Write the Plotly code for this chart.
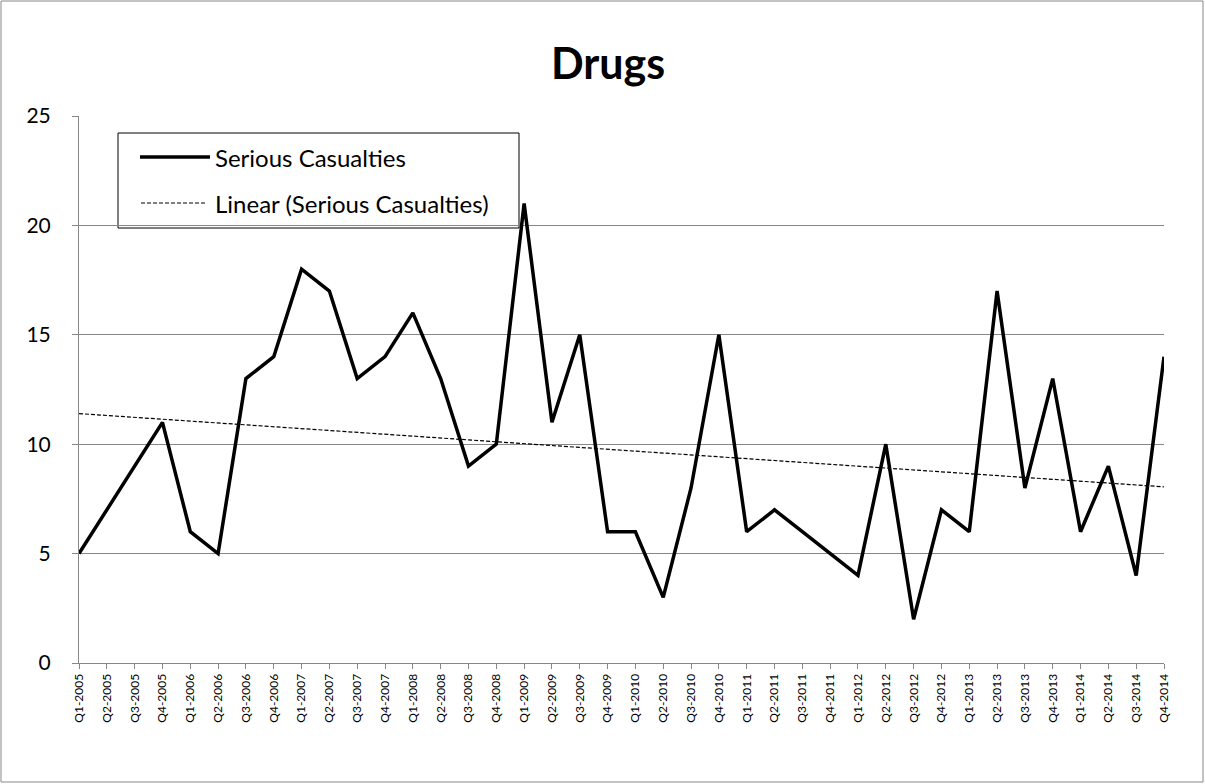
import numpy as np
import plotly.graph_objects as go

# Quarterly counts of serious casualties in drug-related collisions
quarters = [f"Q{q}-{y}" for y in range(2005, 2015) for q in range(1, 5)]
serious_casualties = [
    5, 7, 9, 11,
    6, 5, 13, 14,
    18, 17, 13, 14,
    16, 13, 9, 10,
    21, 11, 15, 6,
    6, 3, 8, 15,
    6, 7, 6, 5,
    4, 10, 2, 7,
    6, 17, 8, 13,
    6, 9, 4, 14,
]
y_ticks = [0, 5, 10, 15, 20, 25]

# Least-squares linear trend over the series
idx = np.arange(len(serious_casualties))
slope, intercept = np.polyfit(idx, serious_casualties, 1)
trend = slope * idx + intercept

W, H = 1205, 784
L, R, T, B = 79, 1164, 116, 663
FONT = "Lato, 'Open Sans', sans-serif"
GRAY = "#878787"


def px(x):
    return (x - L) / (R - L)


def py(y):
    return (B - y) / (B - T)


fig = go.Figure()
fig.add_trace(go.Scatter(
    x=quarters, y=serious_casualties, mode="lines",
    line=dict(color="black", width=3.5), name="Serious Casualties",
    showlegend=False,
))
fig.add_trace(go.Scatter(
    x=quarters, y=trend, mode="lines",
    line=dict(color="black", width=1.2, dash="4px,2px"),
    name="Linear (Serious Casualties)", showlegend=False,
))

shapes = [
    # outer chart frame
    dict(type="rect", xref="paper", yref="paper",
         x0=px(1), x1=px(W - 2), y0=py(1), y1=py(H - 2),
         line=dict(color=GRAY, width=1), fillcolor="rgba(0,0,0,0)", layer="below"),
    # legend box
    dict(type="rect", xref="paper", yref="paper",
         x0=px(118), x1=px(519), y0=py(133), y1=py(228),
         line=dict(color="black", width=1), fillcolor="white", layer="between"),
    dict(type="line", xref="paper", yref="paper",
         x0=px(140), x1=px(210), y0=py(157), y1=py(157),
         line=dict(color="black", width=3.5), layer="between"),
    dict(type="line", xref="paper", yref="paper",
         x0=px(141), x1=px(207), y0=py(203), y1=py(203),
         line=dict(color="black", width=1.2, dash="4px,2px"), layer="between"),
]

annotations = [
    dict(xref="paper", yref="paper", x=px(213), y=py(157), xanchor="left", yanchor="middle",
         text="Serious Casualties", showarrow=False,
         font=dict(family=FONT, size=24, color="black")),
    dict(xref="paper", yref="paper", x=px(213), y=py(203), xanchor="left", yanchor="middle",
         text="Linear (Serious Casualties)", showarrow=False,
         font=dict(family=FONT, size=24, color="black")),
]

fig.update_layout(
    width=W, height=H,
    margin=dict(l=L, r=W - R, t=T, b=H - B),
    paper_bgcolor="white", plot_bgcolor="white",
    title=dict(text="<b>Drugs</b>", x=608 / W, xref="container", xanchor="center",
               y=1 - 64 / H, yanchor="middle",
               font=dict(family=FONT, size=43, color="black")),
    font=dict(family=FONT, color="black"),
    shapes=shapes, annotations=annotations,
    xaxis=dict(
        type="category", range=[0, len(quarters) - 1],
        tickangle=-90, tickfont=dict(size=12),
        showgrid=False, showline=True, linecolor=GRAY, linewidth=1,
        ticks="outside", ticklen=5, tickcolor=GRAY,
    ),
    yaxis=dict(
        range=[0, 25], tickvals=y_ticks, tickfont=dict(size=21),
        showgrid=True, gridcolor=GRAY, gridwidth=1,
        showline=True, linecolor=GRAY, linewidth=1,
        ticks="outside", ticklen=6, tickcolor=GRAY, zeroline=False,
        ticklabelstandoff=17,
    ),
)

fig.write_html("out.html")
